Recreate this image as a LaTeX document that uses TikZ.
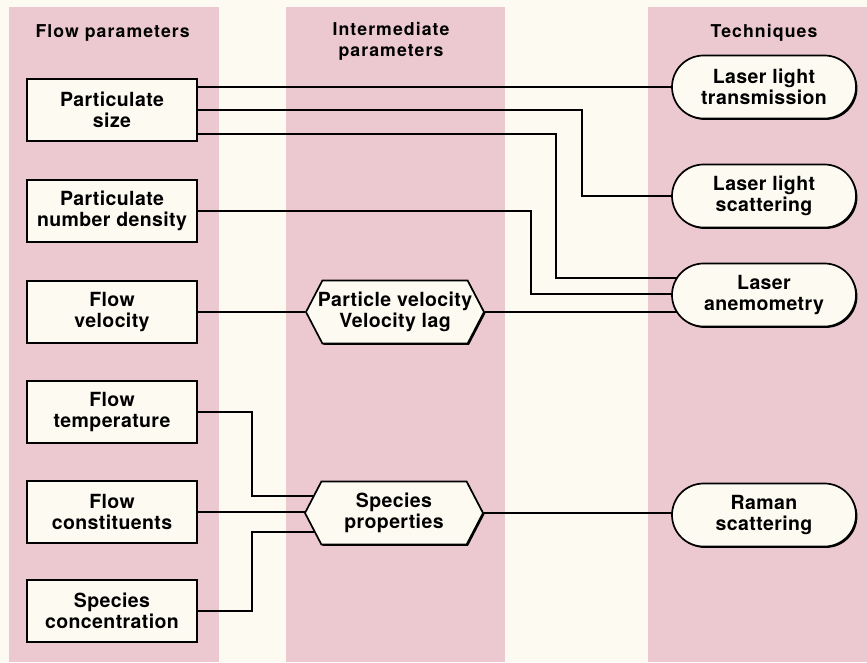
\documentclass[tikz,border=0pt]{standalone}
\usepackage{fontspec}
\newfontfamily\boxfont{TeX Gyre Heros}[LetterSpace=2]
\newfontfamily\headfont{TeX Gyre Heros}[LetterSpace=6]
\usepackage{xcolor}
\usetikzlibrary{shapes.misc,shapes.symbols,shadows}
\definecolor{bandpink}{RGB}{236,201,209}
\definecolor{paper}{RGB}{253,250,242}
\pgfdeclarelayer{bands}
\pgfdeclarelayer{wires}
\pgfsetlayers{bands,wires,main}

\begin{document}
\begin{tikzpicture}[x=1pt,y=-1pt,
base/.style={draw,line width=1.7pt,fill=paper,align=center,inner sep=0pt,
 font=\boxfont\bfseries\fontsize{19.5}{21.5}\selectfont,
 drop shadow={shadow xshift=1.4pt,shadow yshift=-1.4pt,fill=black,opacity=1}},
param/.style={base,rectangle,minimum width=170pt,minimum height=62pt},
tech/.style={base,rounded rectangle,minimum width=184pt,minimum height=63pt},
inter/.style={base,signal,signal to=east and west,signal pointer angle=125,
 inner xsep=-5pt,minimum width=178pt,minimum height=63pt},
head/.style={font=\headfont\bfseries\fontsize{17.7}{21}\selectfont,align=center},
wire/.style={line width=1.7pt}]
 \useasboundingbox (0,0) rectangle (867,662);
 \begin{pgfonlayer}{bands}
  \fill[paper] (0,0) rectangle (867,662);
  \foreach \L/\R in {9/219,286/505,648/867}
   \fill[bandpink] (\L,7) rectangle (\R,662);
 \end{pgfonlayer}
 % column heads
 \node[head,anchor=base west] (hflow) at (32,37.5) {Flow parameters};
 \node[head] (hinter) at (391,41) {Intermediate\\parameters};
 \node[head,anchor=base] (htech) at (764,37.5) {Techniques};
 % flow parameters
 \foreach \N/\Y/\T in {psize/110/{Particulate\\size},pnum/211/{Particulate\\number density},
  fvel/312/{Flow\\velocity},ftemp/412/{Flow\\temperature},
  fcon/512/{Flow\\constituents},sconc/611/{Species\\concentration}}
  \node[param] (\N) at (112,\Y) {\T};
 % intermediate parameters
 \node[inter] (pvel) at (395,312) {Particle velocity\\Velocity lag};
 \node[inter] (spec) at (394,513) {Species\\properties};
 % techniques
 \foreach \N/\Y/\T in {trans/87/{Laser light\\transmission},scat/196/{Laser light\\scattering},
  anemo/295/{Laser\\anemometry},raman/515/{Raman\\scattering}}
  \node[tech] (\N) at (764,\Y) {\T};
 \begin{pgfonlayer}{wires}
  \draw[wire] ([yshift=23pt]psize.east) -- (trans);
  \draw[wire] (psize.east) -| ([xshift=-89pt]scat.west) -- (scat);
  \draw[wire] ([yshift=-24pt]psize.east) -| ([xshift=-115pt,yshift=17pt]anemo.west)
   -- ([yshift=17pt]anemo.center);
  \draw[wire] (pnum.east) -| ([xshift=-140pt,yshift=1pt]anemo.west)
   -- ([yshift=1pt]anemo.center);
  \draw[wire] (fvel) -- (pvel);
  \draw[wire] (pvel) -- (pvel -| anemo);
  \draw[wire] (ftemp.east) -| ([xshift=-52pt,yshift=17pt]spec.west)
   -- ([yshift=17pt]spec.center);
  \draw[wire] (fcon) -- (fcon -| spec);
  \draw[wire] (sconc.east) -| ([xshift=-52pt,yshift=-19pt]spec.west)
   -- ([yshift=-19pt]spec.center);
  \draw[wire] (spec) -- (spec -| raman);
 \end{pgfonlayer}
\end{tikzpicture}
\end{document}
